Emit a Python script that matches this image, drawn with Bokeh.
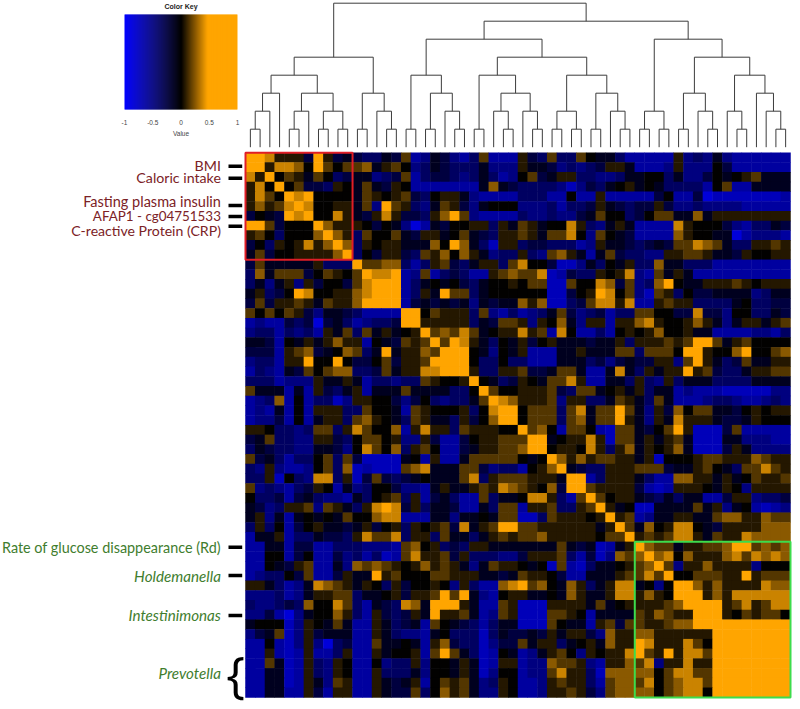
from bokeh.plotting import figure
from bokeh.models import Range1d, LinearColorMapper, ColumnDataSource
from bokeh.core.properties import value
from bokeh.embed import file_html
from bokeh.resources import INLINE

UPPER_LEFT = [
 [5,5,4,1,1,1,-2,5,1,-2,-1,-2,-3,-3,-1,-2,2,-5,-4,-1,-2,-4,-5,-3,2,-5,-5,-5],
 [5,1,4,4,3,0,5,2,0,2,2,3,-1,1,2,0,-4,-3,-1,-2,-3,-3,-3,-1,-4,-4,-4],
 [5,0,2,1,-1,2,0,-3,-2,-1,-1,-4,-3,-2,2,-5,-3,-2,-2,-3,-4,-3,-1,-3,-5,-4],
 [5,0,2,-2,-2,-3,1,0,-1,2,-1,-2,1,0,-5,-5,-5,-5,-5,-5,-5,-1,3,-1,-2],
 [5,4,5,0,0,0,0,-1,2,1,0,1,2,-2,-3,0,1,1,-1,-4,-5,-5,-5,-5],
 [5,4,0,0,1,1,-1,2,-4,5,2,1,-3,-4,-1,2,1,-2,-4,-1,0,0,0],
 [5,0,0,4,1,-1,-2,1,4,1,-2,-2,-3,1,3,5,2,-4,-5,-5,-5,-5],
 [5,3,1,1,1,0,-2,0,-1,-4,-7,-5,-1,-2,0,0,1,1,-3,1,-1],
 [5,3,1,-3,2,0,0,2,-1,-2,1,1,-1,0,2,-1,-2,-3,1,1],
 [5,3,-3,1,0,1,1,-1,-1,-1,3,0,5,3,-1,-3,-6,1,1],
 [5,-3,0,-2,1,1,-2,-3,2,1,3,0,3,1,-1,-4,-3,-3],
 [5,2,2,3,3,-3,-5,-3,1,2,-2,-3,-1,1,1,-3,2],
 [5,4,4,5,-5,-4,2,-5,-3,-2,-3,-5,-5,1,2,3],
 [5,5,5,-5,-3,-1,0,-1,0,-2,-3,-1,0,0,1],
 [5,5,-5,-3,1,-1,5,2,2,-3,-1,0,0,0],
 [5,-5,-2,-1,-2,-1,-2,-1,-4,-1,-2,-1,-1],
 [5,5,0,2,1,1,1,-3,2,-4,-5,-3],
 [5,1,1,1,1,1,-3,-1,-2,2,2],
 [5,2,3,2,4,2,-1,0,1,1],
 [5,2,5,4,1,-1,-3,0,-1],
 [5,5,5,0,-1,-4,0,-1],
 [5,5,0,-3,-3,0,-3],
 [5,1,-3,-3,1,1],
 [5,0,-1,-3,-2],
 [5,2,0,0],
 [5,4,3],
 [5,5],
 [5],
]
UPPER_RIGHT = [
 [1,-2,-3,2,-3,-3,2,0,-1,-1,-3,-5,-5,-5,-5,-5,1,-4,-3,-4,-1,-4,-5,-5,-5,-5,-5,-5],
 [1,-1,-1,-2,-4,-3,-4,-3,-2,1,1,-1,-5,-5,-5,-4,1,-4,-4,-4,0,-2,-5,-5,-5,-5,-5,-5],
 [0,2,-2,-1,1,1,-3,-3,-4,-4,-3,-1,-1,0,0,-3,-1,-4,-4,-2,0,-1,0,1,2,-1,-1,-1],
 [-3,-3,-3,-3,-4,-6,-4,-2,-3,-1,0,1,-1,0,-1,-3,-3,-3,-3,-5,0,2,-5,-5,-1,-1,-1,-1],
 [-3,-3,-3,-5,-5,0,-5,-5,1,-5,-5,-5,-5,-5,-2,0,-5,-5,-2,-7,-6,-6,-6,-6,-6,-6,-6,-5],
 [-4,-4,-4,-3,-5,-3,-3,-2,1,-1,-2,-3,-2,-2,1,-2,-4,-4,-3,-4,-4,-4,-4,-5,-5,-5,-5,-5],
 [-3,-4,-4,-3,-4,-4,-2,-1,2,0,0,-3,-2,0,2,2,-1,-1,3,-1,1,1,1,1,1,1,1,1],
 [2,1,-1,0,0,4,1,-3,-4,-1,1,-1,-5,-5,-5,-5,4,1,0,0,0,-2,-4,-5,-3,-3,-1,-2],
 [2,1,-1,2,2,4,0,-4,2,0,-1,-2,-5,-5,-5,-5,3,1,0,0,-1,-1,-7,-5,-4,-4,-4,-5],
 [-3,-2,-2,-3,-3,-3,-5,-4,1,-1,-1,-2,-3,-2,-1,-2,2,2,4,3,2,-1,-3,-3,1,1,2,1],
 [1,-3,-4,2,3,1,-1,-5,-1,2,-2,-3,-3,-4,-4,1,1,2,2,1,-1,-1,-2,1,0,0,1,1],
 [4,0,0,-2,-6,-6,-4,-1,-3,0,-1,1,-3,-3,3,-1,-1,-3,-3,-3,-5,-5,-5,-5,-5,-5,-5,-5],
 [2,2,4,-6,-5,-2,-3,-3,1,0,1,4,-4,-5,2,-1,1,-1,-5,-5,-5,-5,-5,-5,-5,-5,-5,-5],
 [0,2,2,-6,-6,2,0,0,4,3,-2,2,-4,-3,3,5,0,-1,-1,1,1,1,2,1,0,1,1,1],
 [0,0,0,-6,-6,-2,0,1,5,4,0,2,-4,-6,2,1,-3,0,-2,-2,-1,-1,-1,-1,-4,-3,-1,-1],
 [3,1,3,-6,-6,-3,-2,2,4,4,1,4,-5,-5,1,2,1,1,-3,-3,-3,-3,-1,0,-3,-3,-2,-2],
 [-5,-4,-3,-1,2,-2,-4,-3,-2,-5,-3,-3,2,2,0,0,-2,-2,4,-2,-2,-4,0,0,-3,-3,-1,-2],
 [1,-4,1,0,3,-1,-4,1,1,-5,1,1,3,4,1,0,0,1,3,1,-1,-4,-1,1,1,-1,1,2],
 [4,1,2,-5,4,0,-5,-5,-3,-5,0,1,0,1,3,0,0,1,-1,-1,-5,-5,-5,-5,-4,-4,-5,-3],
 [1,-2,0,1,-1,-1,-1,-2,-1,-1,1,-3,1,1,1,2,1,2,5,5,2,-1,1,2,0,0,0,0],
 [1,-5,-5,-5,-1,-1,1,-1,-1,-1,2,2,-3,2,2,2,0,5,5,1,0,0,3,5,0,0,2,3],
 [-3,-5,-5,-5,-1,-1,-1,-3,-2,-4,-2,-1,-2,-2,1,1,-4,2,5,1,-1,-3,-2,2,-1,-1,1,1],
 [2,-2,-2,-1,2,2,-1,-5,-5,-1,4,-1,-3,1,-1,1,1,5,1,2,-2,-3,-3,-1,1,1,2,2],
 [1,0,-1,2,2,4,1,-5,-5,-1,-1,-3,1,-3,-4,1,-3,-1,-1,-1,-3,-3,-3,-3,-1,-1,-1,-1],
 [1,1,1,2,-2,-3,2,2,-1,0,1,-1,1,-3,-1,-1,-5,-4,-5,-5,-5,-6,-6,-6,-6,-6,-4,-4],
 [1,1,1,2,-4,1,1,-3,-3,-1,2,1,-1,-3,2,-1,-5,-5,-5,-4,-3,-3,-4,-5,-5,-4,-3,-4],
 [0,2,2,2,-3,2,4,-1,2,2,5,2,-1,-4,1,-2,3,0,2,2,-1,-1,-2,0,1,0,1,1],
 [0,2,2,2,-3,2,3,-1,2,2,5,1,-1,-4,1,-1,4,1,1,1,-1,-2,-2,-1,1,0,0,0],
]
LOWER_RIGHT = [
 [5,2,3,0,-5,2,2,0,-5,-6,2,2,-1,-2,0,2,5,1,-6,-6,-6,-2,2,-5,-5,-5,-5,-5],
 [5,5,-1,0,1,1,4,1,-6,2,2,-1,1,-1,1,2,-1,-6,-6,-6,-1,-1,-4,-4,-4,-5,-5],
 [5,0,1,1,0,4,1,-3,1,3,-1,1,0,1,3,-1,-6,-6,-6,-2,1,-1,-4,-4,-4,-4],
 [5,3,1,3,1,2,2,1,1,-1,1,-6,0,0,0,1,2,2,1,1,1,3,2,1,1],
 [5,-1,-2,-3,-3,1,1,1,2,2,2,-2,-1,-1,1,2,0,-1,-3,2,2,4,2,1],
 [5,5,-5,-3,1,1,1,-1,-3,-5,-5,3,3,1,1,-1,1,-1,0,2,1,1,2],
 [5,2,1,1,1,1,-2,-5,-6,-5,1,1,1,0,-1,1,0,-4,1,1,1,1],
 [5,2,0,1,1,-1,-2,-3,-1,-3,-1,-1,-5,-5,-2,1,1,-4,-3,-3,-2],
 [5,1,-1,0,-6,-6,-1,-1,-1,-1,2,-1,1,-4,-1,0,-5,-6,-5,-4],
 [5,1,2,-5,-4,-1,-1,1,1,-1,-1,2,3,3,1,1,3,2,2],
 [5,2,-1,3,0,1,4,4,0,-1,-2,1,1,1,1,3,3,3],
 [5,1,2,1,2,4,4,1,-1,2,1,1,4,3,3,3,3],
 [5,3,2,2,-1,1,1,2,2,3,5,5,2,3,2,3],
 [5,3,4,0,3,1,1,1,3,4,2,4,3,4,3],
 [5,2,-4,1,1,3,1,1,1,1,-4,0,0,0],
 [5,0,0,2,2,2,1,1,5,1,2,2,2],
 [5,5,3,1,3,1,1,1,1,4,3,3],
 [5,5,1,3,1,4,4,4,4,4,4],
 [5,5,5,1,2,4,1,2,4,4],
 [5,5,1,0,2,1,2,2,0],
 [5,5,5,5,5,5,5,5],
 [5,5,5,5,5,5,5],
 [5,5,5,5,5,5],
 [5,5,5,5,5],
 [5,5,5,5],
 [5,5,5],
 [5,5],
 [5],
]
# what each read-off step stands for on the -1..1 colour key
STEP_VALUES = {-7: -0.85, -6: -0.72, -5: -0.62, -4: -0.5, -3: -0.38, -2: -0.25, -1: -0.12,
               0: 0.0, 1: 0.07, 2: 0.15, 3: 0.25, 4: 0.37, 5: 0.5}

# nested (level, left, right) merges of the 56 leaves
TREE = (8,
  (5,
    (4, (3, (2, (1, 0, 1), 2), 3),
        (3, (2, (1, 4, 5), 6), (2, (1, 7, 8), (1, 9, 10)))),
    (3, (1, 11, 12), (2, 13, (1, 14, 15)))),
  (7,
    (6,
      (4, (1, 16, 17), (3, (1, 18, 19), (2, 20, (1, 21, 22)))),
      (5,
        (4, (1, 23, 24), (3, (2, 25, (1, 26, 27)), (2, 28, (1, 29, 30)))),
        (4, (2, (1, 31, 32), (1, 33, 34)),
            (3, (1, 35, 36), (2, 37, (1, 38, 39)))))),
    (6,
      (2, (1, 40, 41), (1, 42, 43)),
      (5,
        (3, (1, 44, 45), (2, 46, (1, 47, 48))),
        (4, (2, 49, (1, 50, 51)),
            (3, 52, (2, 53, (1, 54, 55))))))))

KEY_TICKS = [-1, -0.5, 0, 0.5, 1]
KEY_TICK_LABELS = ["-1", "-0.5", "0", "0.5", "1"]
RED_LABELS = ["BMI", "Caloric intake", "Fasting plasma insulin",
              "AFAP1 - cg04751533", "C-reactive Protein (CRP)"]
GREEN_LABELS = ["Rate of glucose disappearance (Rd)"]
GREEN_ITALIC_LABELS = ["Holdemanella", "Intestinimonas", "Prevotella"]

# ---- layout (page pixels) ----
N = 56
W, H = 800, 709
HX0, HX1, HY0, HY1 = 245.0, 790.0, 152.3, 697.0
CW, CH = (HX1 - HX0) / N, (HY1 - HY0) / N
KX0, KX1, KY0, KY1 = 124.0, 237.0, 14.0, 109.0
LEAF_Y, LEVEL_STEP = 146.7, 18.0

p = figure(width=W, height=H, x_range=Range1d(0, W), y_range=Range1d(H, 0),
           x_axis_type=None, y_axis_type=None, min_border=0, outline_line_color=None,
           output_backend="svg", toolbar_location=None,
           styles={"position": "absolute", "left": "0px", "top": "0px"})
p.extra_x_ranges["col"] = Range1d(-HX0 / CW, (W - HX0) / CW)
p.extra_y_ranges["row"] = Range1d((H - HY0) / CH, -HY0 / CH)
p.extra_y_ranges["level"] = Range1d((LEAF_Y - H) / LEVEL_STEP, LEAF_Y / LEVEL_STEP)
kmid, kscale = (KX0 + KX1) / 2, (KX1 - KX0) / 2
p.extra_x_ranges["key"] = Range1d(-kmid / kscale, (W - kmid) / kscale)

# colour scale: blue through black to orange, saturated from about 0.47
def colour(v):
    if v < 0:
        return "#%02x%02x%02x" % (0, 0, round(-v * 255))
    t = min(v / 0.47, 1)
    return "#%02x%02x%02x" % (round(255 * t), round(165 * t), 0)

STEPS = 256
palette = [colour(-1 + 2 * i / (STEPS - 1)) for i in range(STEPS)]
mapper = LinearColorMapper(palette=palette, low=-1, high=1)

M = [[0.0] * N for _ in range(N)]
def put(i, j, v):
    if i < N and j < N:
        M[i][j] = M[j][i] = STEP_VALUES[v]
for i, row in enumerate(UPPER_LEFT):
    for k, v in enumerate(row):
        put(i, i + k, v)
for i, row in enumerate(UPPER_RIGHT):
    for k, v in enumerate(row):
        put(i, 28 + k, v)
for i, row in enumerate(LOWER_RIGHT):
    for k, v in enumerate(row):
        put(28 + i, 28 + i + k, v)

cols, rows, vals = [], [], []
for r in range(N):
    for c in range(N):
        cols.append(c + 0.5)
        rows.append(r + 0.5)
        vals.append(M[r][c])
src = ColumnDataSource(dict(x=cols, y=rows, v=vals))
fc = {"field": "v", "transform": mapper}
p.rect("x", "y", width=1.05, height=1.05, source=src, fill_color=fc, line_color=None,
       x_range_name="col", y_range_name="row")

# highlighted blocks
p.quad(left=[0], right=[11], top=[0], bottom=[11], fill_color=None, line_color="#e01e26",
       line_width=2, x_range_name="col", y_range_name="row")
p.quad(left=[40], right=[56], top=[40], bottom=[56], fill_color=None, line_color="#3ddc4c",
       line_width=2, x_range_name="col", y_range_name="row")

# dendrogram
xs, ys = [], []
def walk(node):
    if isinstance(node, int):
        return node + 0.5, 0
    lev, a, b = node
    xa, la = walk(a)
    xb, lb = walk(b)
    xs.append([xa, xa, xb, xb])
    ys.append([la, lev, lev, lb])
    return (xa + xb) / 2, lev
walk(TREE)
p.multi_line(xs, ys, line_color="#3c3c3c", line_width=1, x_range_name="col", y_range_name="level")

# colour key
KEY_N = 114
key_vals = [-1 + 2 * (i + 0.5) / KEY_N for i in range(KEY_N)]
kw = 2 / KEY_N
p.quad(left=[v - kw / 2 for v in key_vals], right=[min(v + kw, 1) for v in key_vals],
       top=[KY0] * KEY_N, bottom=[KY1] * KEY_N,
       fill_color=[colour(v) for v in key_vals], line_color=None, x_range_name="key")
p.text(KEY_TICKS, [122] * 5, text=KEY_TICK_LABELS,
       text_font=value("Liberation Sans"), text_font_size="6.5px", text_color="#444444",
       text_align="center", text_baseline="middle", x_range_name="key")
p.text([0], [133], text=["Value"], text_font=value("Liberation Sans"), text_font_size="6.5px",
       text_color="#444444", text_align="center", text_baseline="middle", x_range_name="key")
p.text([0], [5.5], text=["Color Key"], text_font=value("Liberation Sans"), text_font_style="bold",
       text_font_size="7px", text_color="#222222", text_align="center", text_baseline="middle",
       x_range_name="key")

# labels and tick bars
LAB_X = 220.4
RED_Y = [165, 177, 201, 215.5, 230]
RED_SIZES = ["14.2px", "14.2px", "14.5px", "13.4px", "14.1px"]
p.text([LAB_X] * 5, RED_Y, text=RED_LABELS, text_font=value("Lato"), text_font_size=RED_SIZES,
       text_color="#7b2226", text_align="right", text_baseline="middle")
p.text([LAB_X], [547], text=GREEN_LABELS, text_font=value("Lato"), text_font_size="14.4px",
       text_color="#3f7d2e", text_align="right", text_baseline="middle")
p.text([LAB_X] * 3, [575, 614, 672.5], text=GREEN_ITALIC_LABELS, text_font=value("Lato"),
       text_font_style="italic", text_font_size="15.2px", text_color="#3f7d2e",
       text_align="right", text_baseline="middle")
BAR_Y = [165.7, 177.7, 205, 216, 225.7, 546.7, 575, 615]
p.segment([228] * 8, BAR_Y, [241.7] * 8, BAR_Y, line_color="black", line_width=3.5)
p.text([235], [672], text=["{"], text_font=value("Open Sans"), text_font_size="50px",
       text_color="black", text_align="center", text_baseline="middle")

open("out.html", "w").write(file_html(p, INLINE))
